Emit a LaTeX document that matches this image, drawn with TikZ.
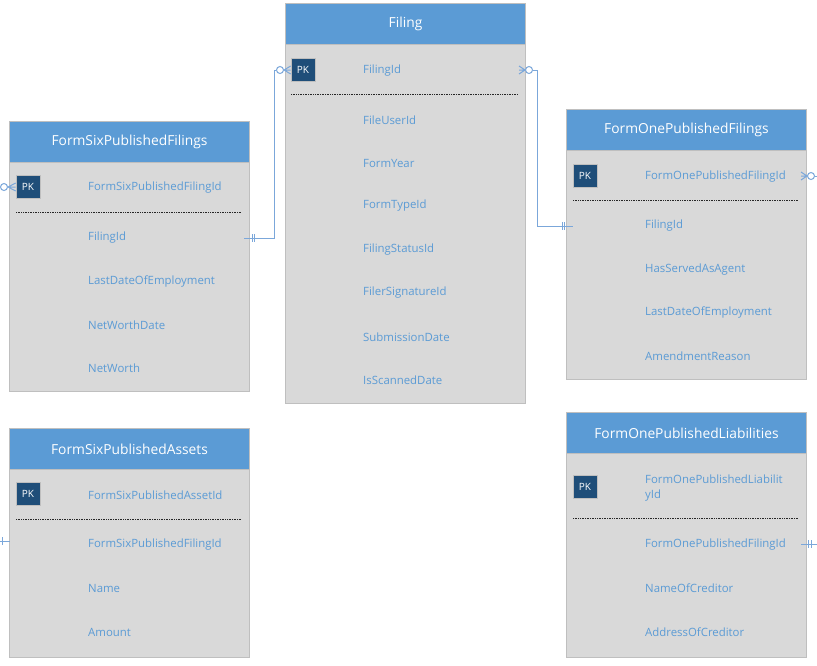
\documentclass[tikz,border=0pt]{standalone}
\usepackage{fontspec}
\setmainfont{Open Sans}
\usetikzlibrary{calc}
\definecolor{hdr}{HTML}{5B9BD5}
\definecolor{bodyc}{HTML}{D9D9D9}
\definecolor{edgec}{HTML}{BFBFBF}
\definecolor{pkc}{HTML}{1F4E79}
\definecolor{txt}{HTML}{5B9BD5}
\definecolor{lnk}{HTML}{7BA7DA}
\tikzset{
 tbody/.style={draw=edgec, line width=1pt, fill=bodyc, anchor=north west, inner sep=0pt, minimum width=240pt},
 thead/.style={draw=edgec, line width=1pt, fill=hdr, anchor=north west, inner sep=0pt, minimum width=240pt, minimum height=41pt, text=white, font=\fontsize{13.8}{16}\selectfont},
 pkbox/.style={fill=pkc, draw=gray!50, line width=0.6pt, minimum width=24pt, minimum height=23pt, inner sep=0pt, text=white, font=\fontsize{10}{11}\selectfont},
 row/.style={anchor=west, inner sep=0pt, yshift=-1pt, text=txt, font=\fontsize{11.4}{15}\selectfont, align=left},
 sepline/.style={line width=0.9pt, dash pattern=on 1pt off 0.7pt, black!85},
 conn/.style={draw=lnk, line width=1pt},
 zero/.style={circle, draw=lnk, line width=1pt, fill=white, minimum size=7pt, inner sep=0pt},
}
\begin{document}
\begin{tikzpicture}[x=1pt,y=-1pt]
\useasboundingbox[fill=white] (0,0) rectangle (817,665);

% ---------- Filing ----------
\node[tbody, minimum height=400pt] (fil) at (285,3) {};
\node[thead] (filH) at (285,3) {Filing};
\node[pkbox] (filPK) at (303,70) {PK};
\draw[sepline] (291,94) -- (518,94);
\node[row] (filR1) at (363,70) {FilingId};
\node[row] (filR2) at (363,119) {FileUserId};
\node[row] (filR3) at (363,162) {FormYear};
\node[row] (filR4) at (363,205) {FormTypeId};
\node[row] (filR5) at (363,249) {FilingStatusId};
\node[row] (filR6) at (363,292) {FilerSignatureId};
\node[row] (filR7) at (363,336) {SubmissionDate};
\node[row] (filR8) at (363,379) {IsScannedDate};

% ---------- FormSixPublishedFilings ----------
\node[tbody, minimum height=270pt] (fsf) at (9,121) {};
\node[thead] (fsfH) at (9,121) {FormSixPublishedFilings};
\node[pkbox] (fsfPK) at (28,187) {PK};
\draw[sepline] (16,212) -- (242,212);
\node[row] (fsfR1) at (88,187) {FormSixPublishedFilingId};
\node[row] (fsfR2) at (88,237) {FilingId};
\node[row] (fsfR3) at (88,281) {LastDateOfEmployment};
\node[row] (fsfR4) at (88,324) {NetWorthDate};
\node[row] (fsfR5) at (88,367) {NetWorth};

% ---------- FormOnePublishedFilings ----------
\node[tbody, minimum height=270pt] (fof) at (566,109) {};
\node[thead] (fofH) at (566,109) {FormOnePublishedFilings};
\node[pkbox] (fofPK) at (585,176) {PK};
\draw[sepline] (573,200) -- (799,200);
\node[row] (fofR1) at (645,176) {FormOnePublishedFilingId};
\node[row] (fofR2) at (645,225) {FilingId};
\node[row] (fofR3) at (645,269) {HasServedAsAgent};
\node[row] (fofR4) at (645,312) {LastDateOfEmployment};
\node[row] (fofR5) at (645,355) {AmendmentReason};

% ---------- FormSixPublishedAssets ----------
\node[tbody, minimum height=229pt] (fsa) at (9,428) {};
\node[thead] (fsaH) at (9,428) {FormSixPublishedAssets};
\node[pkbox] (fsaPK) at (28,494) {PK};
\draw[sepline] (16,519) -- (242,519);
\node[row] (fsaR1) at (88,494) {FormSixPublishedAssetId};
\node[row] (fsaR2) at (88,544) {FormSixPublishedFilingId};
\node[row] (fsaR3) at (88,587) {Name};
\node[row] (fsaR4) at (88,631) {Amount};

% ---------- FormOnePublishedLiabilities ----------
\node[tbody, minimum height=245pt] (fol) at (566,412) {};
\node[thead] (folH) at (566,412) {FormOnePublishedLiabilities};
\node[pkbox] (folPK) at (585,487) {PK};
\draw[sepline] (573,518) -- (799,518);
\node[row] (folR1) at (645,487) {FormOnePublishedLiabilit\\yId};
\node[row] (folR2) at (645,544) {FormOnePublishedFilingId};
\node[row] (folR3) at (645,587) {NameOfCreditor};
\node[row] (folR4) at (645,631) {AddressOfCreditor};

% ---------- Connector: FormSixPublishedFilings.FilingId -> Filing PK ----------
\node[zero] (z1) at (280,70) {};
\draw[conn] ($(fsf.east|-fsfR2)+(-6,0)$) -- ($(fsf.east|-fsfR2)+(24,0)$) |- (z1.west);
\draw[conn] ($(fsf.east|-fsfR2)+(2,-4)$) -- ++(0,8);
\draw[conn] ($(fsf.east|-fsfR2)+(4.5,-4)$) -- ++(0,8);
\draw[conn] (z1.east) -- ([yshift=4pt]filPK.west) (z1.east) -- (filPK.west) (z1.east) -- ([yshift=-4pt]filPK.west);

% ---------- Connector: Filing.FilingId -> FormOnePublishedFilings.FilingId ----------
\node[zero] (z2) at (529,70) {};
\coordinate (cf) at ($(fil.east|-filPK)+(-7,0)$);
\draw[conn] (z2.west) -- ([yshift=4pt]cf) (z2.west) -- (cf) (z2.west) -- ([yshift=-4pt]cf);
\draw[conn] (z2.east) -- ($(fil.east|-filPK)+(11,0)$) |- ($(fof.west|-fofR2)+(7,0)$);
\draw[conn] ($(fof.west|-fofR2)+(-4,-4)$) -- ++(0,8);
\draw[conn] ($(fof.west|-fofR2)+(-1.5,-4)$) -- ++(0,8);

% ---------- Dangling: FormSixPublishedFilings PK (left) ----------
\coordinate (e3) at (0,187);
\node[zero] (z3) at (4,187) {};
\draw[conn] (e3) -- (z3.west);
\draw[conn] (z3.east) -- ([yshift=4pt]fsfPK.west) (z3.east) -- (fsfPK.west) (z3.east) -- ([yshift=-4pt]fsfPK.west);

% ---------- Dangling: FormOnePublishedFilings PK (right) ----------
\coordinate (e4) at (817,176);
\node[zero] (z4) at (811,176) {};
\coordinate (cf4) at ($(fof.east|-fofPK)+(-6,0)$);
\draw[conn] (z4.east) -- (e4);
\draw[conn] (z4.west) -- ([yshift=4pt]cf4) (z4.west) -- (cf4) (z4.west) -- ([yshift=-4pt]cf4);

% ---------- Dangling: FormSixPublishedAssets (left) ----------
\coordinate (e5) at (0,541);
\draw[conn] (e5) -- ($(fsa.west|-e5)+(1,0)$);
\draw[conn] (2,537) -- (2,545);

% ---------- Dangling: FormOnePublishedLiabilities (right) ----------
\coordinate (e6) at (817,544);
\draw[conn] ($(fol.east|-e6)+(-6,0)$) -- (e6);
\draw[conn] (808,540) -- (808,548);
\draw[conn] (811,540) -- (811,548);
\end{tikzpicture}
\end{document}
